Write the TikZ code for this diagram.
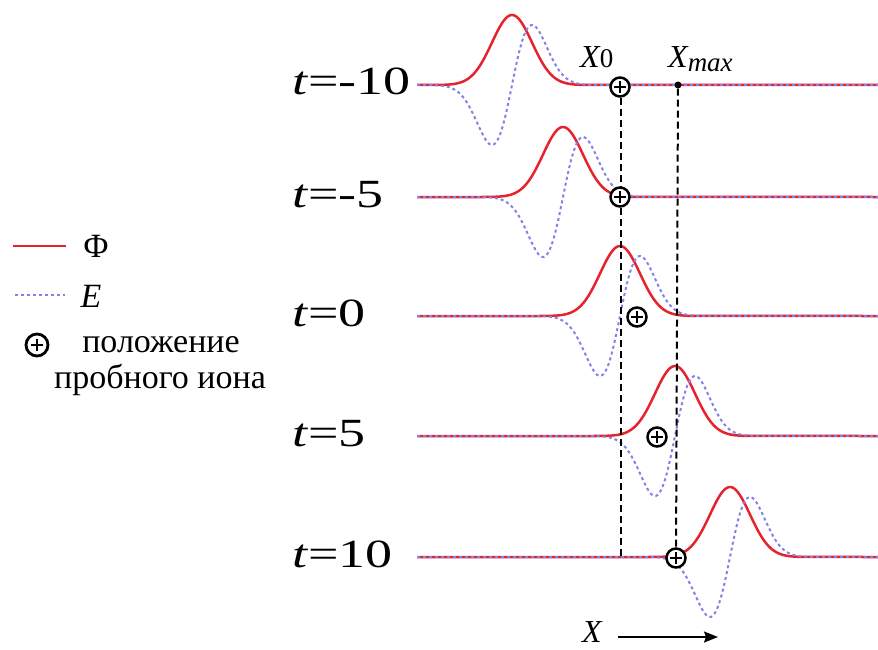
\documentclass[tikz,border=0pt]{standalone}
\usepackage{fontspec}
\setmainfont{Liberation Serif}
\newfontfamily\timesfont{Liberation Serif}
\usepackage{graphicx}
\usepackage{tikz}
\usetikzlibrary{arrows.meta, calc}
\definecolor{phired}{RGB}{230,35,45}
\definecolor{eblue}{RGB}{130,130,232}
\tikzset{
    potential/.style={line width=2.5pt, phired},
    field/.style={line width=2pt, eblue, dash pattern=on 3pt off 3pt},
    guide/.style={line width=2pt, black, dash pattern=on 7pt off 4pt},
    ion/.style={circle, draw, line width=2.5pt, fill=white, minimum size=19pt, inner sep=0pt,
        path picture={
            \draw[line width=1.7pt] ([xshift=-6pt]path picture bounding box.center) -- ([xshift=6pt]path picture bounding box.center);
            \draw[line width=1.7pt] ([yshift=-6pt]path picture bounding box.center) -- ([yshift=6pt]path picture bounding box.center);
        }},
    tlabel/.style={anchor=base west, inner sep=0pt, font=\timesfont\fontsize{40}{48}\selectfont},
    xlabel/.style={inner sep=0pt, font=\timesfont\fontsize{32}{38}\selectfont\itshape},
    legend/.style={inner sep=0pt, font=\timesfont\fontsize{34}{40}\selectfont}
}

\begin{document}
\begin{tikzpicture}[x=1pt, y=-1pt]
    \useasboundingbox (0,0) rectangle (878,650);
    % Импульсы потенциала и поля в моменты t
    \foreach \tval/\cx/\by in {-10/512/85, -5/563/197, 0/620/316, 5/675/436, 10/730/557}{
        \pgfmathsetmacro\xa{\cx-80}
        \pgfmathsetmacro\xb{\cx+80}
        \draw[potential] (417,\by) -- (\xa,\by) -- plot[domain=\xa:\xb, samples=90]
            (\x, {\by-70*exp(-0.5*((\x-\cx)/20)^2)}) -- (878,\by);
        \draw[field] (417,\by) -- (\xa,\by) -- plot[domain=\xa:\xb, samples=90]
            (\x, {\by-60*((\x-\cx)/20)*exp(0.5-0.5*((\x-\cx)/20)^2)}) -- (878,\by);
        \node[tlabel] at (292,\by+10) {\scalebox{1.35}[1]{\textit{t}=\tval}};
    }
    % Вертикальные линии X0 и Xmax
    \coordinate (x0top) at (621,87);
    \coordinate (x0bot) at (621,557);
    \coordinate (ionEpos) at (676,558);
    \draw[guide] (x0top) -- (x0bot);
    \node[circle, fill, inner sep=0pt, minimum size=7pt] (xmax) at (678,85) {};
    \draw[guide] (xmax) -- (ionEpos);
    % Пробный ион
    \node[ion] (ionA) at (620,87) {};
    \node[ion] (ionB) at (620,197) {};
    \node[ion] (ionC) at (637,317) {};
    \node[ion] (ionD) at (657,437) {};
    \node[ion] (ionE) at (ionEpos) {};
    \node[xlabel, anchor=base west] (x0lbl) at (580,68) {X{\upshape\fontsize{27}{27}\selectfont 0}};
    \node[xlabel, anchor=base west] (xmaxlbl) at (668,68) {X\raisebox{-4pt}{\fontsize{27}{27}\selectfont max}};
    % Ось X
    \node[xlabel, anchor=base west] (xaxis) at (582,642) {X};
    \coordinate (xend) at (718,637);
    \draw[line width=1.8pt, -{Stealth[length=14pt, width=11pt, inset=2pt]}, shorten <=16pt] (xaxis.east |- xend) -- (xend);
    % Легенда
    \coordinate (phiA) at (13,246); \coordinate (phiB) at (66,246);
    \coordinate (eA) at (15,295); \coordinate (eB) at (65,295);
    \draw[potential] (phiA) -- (phiB);
    \draw[field] (eA) -- (eB);
    \node[legend] (phileg) at (96,246) {Φ};
    \node[legend, font=\timesfont\fontsize{34}{40}\selectfont\itshape] (eleg) at (91,296) {E};
    \node[ion, minimum size=22pt, line width=2.8pt] (ionleg) at (37,345) {};
    \node[legend, anchor=base] (posA) at (161,352) {положение};
    \node[legend, anchor=base] (posB) at (160,388) {пробного иона};
\end{tikzpicture}
\end{document}
